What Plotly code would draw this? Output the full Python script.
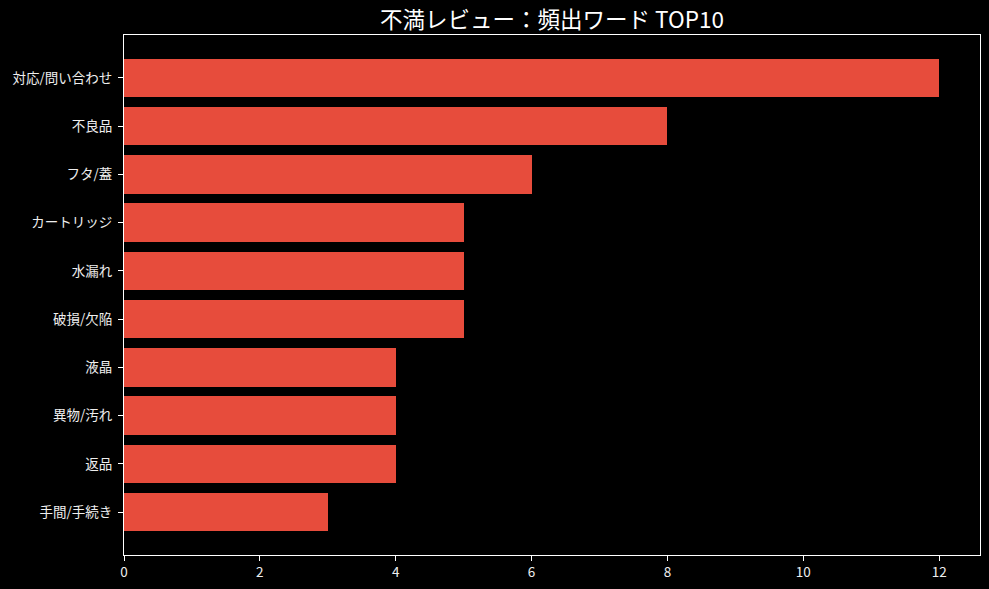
import plotly.graph_objects as go

categories = ["対応/問い合わせ", "不良品", "フタ/蓋", "カートリッジ", "水漏れ",
              "破損/欠陥", "液晶", "異物/汚れ", "返品", "手間/手続き"]
counts = [12, 8, 6, 5, 5, 5, 4, 4, 4, 3]
x_ticks = [0, 2, 4, 6, 8, 10, 12]

FONT = "Noto Sans CJK JP"

fig = go.Figure(go.Bar(
    x=counts, y=categories, orientation="h",
    marker=dict(color="#E74C3C", line=dict(width=0)),
    width=0.8,
))

axis_common = dict(
    showline=True, linecolor="white", linewidth=1, mirror=True,
    showgrid=False, zeroline=False,
    ticks="outside", ticklen=5, tickcolor="white", tickwidth=1,
    tickfont=dict(family=FONT, size=13.5, color="#eeeeee"),
)

fig.update_layout(
    width=989, height=589,
    paper_bgcolor="black", plot_bgcolor="black",
    margin=dict(l=124, r=9, t=35, b=34),
    title=dict(text="不満レビュー：頻出ワード TOP10", x=0.5, xref="paper", xanchor="center",
               y=1 - 20 / 589, yanchor="middle",
               font=dict(family=FONT, size=22.5, color="white")),
    showlegend=False,
    bargap=0,
)
fig.update_xaxes(range=[0, 12.6], tickvals=x_ticks, **axis_common)
fig.update_yaxes(range=[9.89, -0.89], type="category", ticklabelstandoff=3, **axis_common)

fig.write_html(
    "out.html",
    config={"displayModeBar": False},
    post_script="document.body.style.margin='0';document.body.style.background='black';",
)
